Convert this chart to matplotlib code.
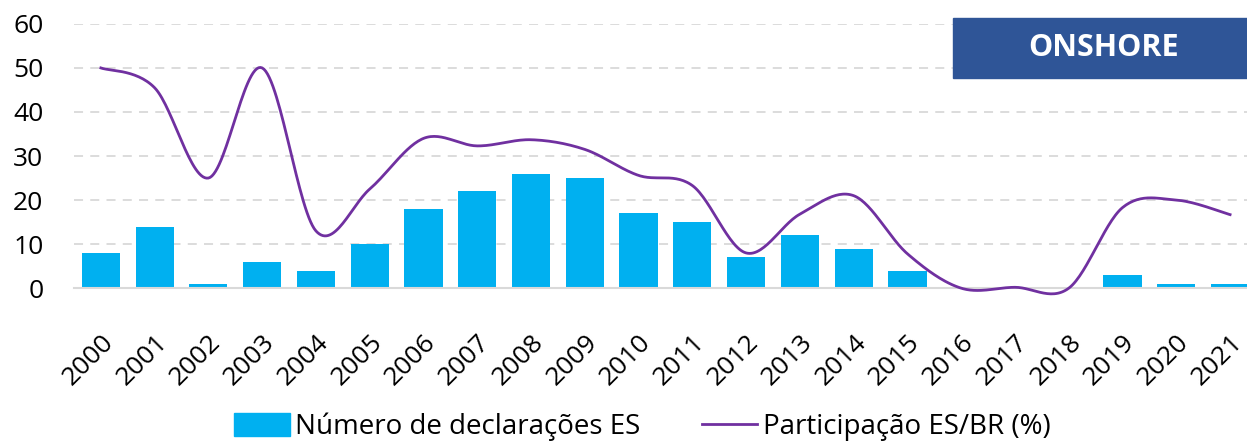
import numpy as np
import matplotlib.pyplot as plt
from matplotlib.patches import Patch
from matplotlib.lines import Line2D

plt.rcParams['font.family'] = ['Open Sans', 'DejaVu Sans']

anos = [str(a) for a in range(2000, 2022)]
declaracoes = [8, 14, 1, 6, 4, 10, 18, 22, 26, 25, 17, 15, 7, 12, 9, 4, 0, 0, 0, 3, 1, 1]
participacao = [50, 45.5, 25, 50, 13, 22.5, 34, 32.3, 33.7, 31.5, 25.6, 23.3, 8, 16.8, 21, 7.8,
                0, 0.2, 0, 18.3, 20, 16.7]


# smoothed line like excel (catmull-rom through the points)
def suavizar(y, n=30):
    y = np.asarray(y, dtype=float)
    x = np.arange(len(y), dtype=float)
    px = np.concatenate([[x[0]], x, [x[-1]]])
    py = np.concatenate([[y[0]], y, [y[-1]]])
    xs, ys = [], []
    for i in range(1, len(px) - 2):
        t = np.linspace(0, 1, n, endpoint=False)
        for p, out in ((px, xs), (py, ys)):
            p0, p1, p2, p3 = p[i - 1], p[i], p[i + 1], p[i + 2]
            out.extend(0.5 * ((2 * p1) + (-p0 + p2) * t + (2 * p0 - 5 * p1 + 4 * p2 - p3) * t ** 2
                              + (-p0 + 3 * p1 - 3 * p2 + p3) * t ** 3))
    xs.append(x[-1])
    ys.append(y[-1])
    return np.array(xs), np.array(ys)


fig = plt.figure(figsize=(12.47, 4.42), dpi=100)
ax = fig.add_axes([0.0593, 0.348, 0.9487, 0.598])

pos = np.arange(len(anos))
ax.bar(pos, declaracoes, width=0.71, color='#00B0F0', zorder=2)
sx, sy = suavizar(participacao)
ax.plot(sx, sy, color='#7030A0', lw=2, zorder=3, clip_on=False)

ax.set_xlim(-0.5, len(anos) - 0.5)
ax.set_ylim(0, 60)
ax.set_yticks(range(0, 61, 10))
ax.set_xticks(pos)
ax.set_xticklabels(anos, rotation=45, ha='right', rotation_mode='anchor')
ax.tick_params(axis='both', length=0, labelsize=19, colors='black')
ax.tick_params(axis='x', pad=30)
ax.tick_params(axis='y', pad=22)

for v in range(10, 61, 10):
    ax.axhline(v, color='#D9D9D9', lw=1.3, ls=(0, (5, 4)), zorder=1)
for s in ['top', 'right', 'left']:
    ax.spines[s].set_visible(False)
ax.spines['bottom'].set_color('#D9D9D9')
ax.spines['bottom'].set_linewidth(1.5)

# onshore label
fig.patches.append(plt.Rectangle((953 / 1247, 1 - 78 / 442), 294 / 1247, 60 / 442,
                                 transform=fig.transFigure, color='#2F5597', zorder=5))
fig.text(1104 / 1247, 1 - 48 / 442, 'ONSHORE', color='white', fontsize=22, fontweight='bold',
         ha='center', va='center', zorder=6)

handles = [Patch(color='#00B0F0', label='Número de declarações ES'),
           Line2D([0], [0], color='#7030A0', lw=2, label='Participação ES/BR (%)')]
fig.legend(handles=handles, loc='center', bbox_to_anchor=(0.515, 1 - 427 / 442), ncol=2,
           frameon=False, fontsize=20, handlelength=2.0, handleheight=0.9,
           handletextpad=0.2, columnspacing=2.2)

fig.savefig('out.png', dpi=100)
